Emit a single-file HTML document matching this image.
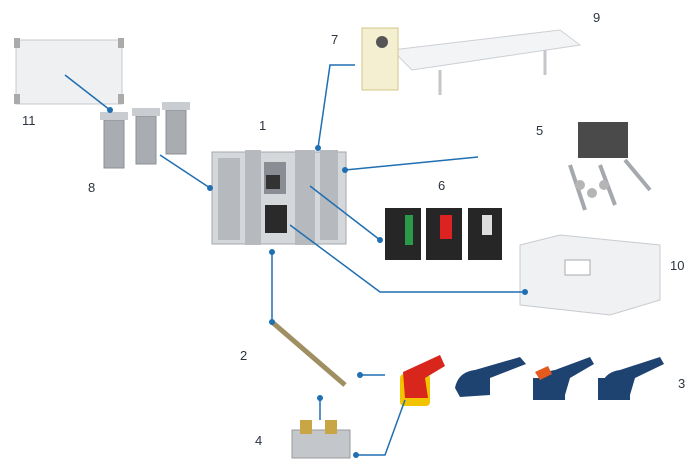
<!DOCTYPE html>
<html><head><meta charset="utf-8"><style>
html,body{margin:0;padding:0;background:#fff;width:700px;height:475px;overflow:hidden}
svg{display:block}
text{font-family:"Liberation Sans",sans-serif;font-size:13px;fill:#2b3440}
</style></head><body>
<svg width="700" height="475" viewBox="0 0 700 475">
<!-- 11 panel -->
<rect x="16" y="40" width="106" height="64" fill="#eef0f2" stroke="#c5c8cc"/>
<rect x="14" y="38" width="6" height="10" fill="#aaa"/><rect x="118" y="38" width="6" height="10" fill="#aaa"/>
<rect x="14" y="94" width="6" height="10" fill="#aaa"/><rect x="118" y="94" width="6" height="10" fill="#aaa"/>
<!-- 8 brackets -->
<g fill="#a9adb2" stroke="#8c9096">
<rect x="104" y="120" width="20" height="48"/><rect x="136" y="116" width="20" height="48"/><rect x="166" y="110" width="20" height="44"/>
</g>
<g fill="#c9ccd0"><rect x="100" y="112" width="28" height="8"/><rect x="132" y="108" width="28" height="8"/><rect x="162" y="102" width="28" height="8"/></g>
<!-- 9 cover -->
<polygon points="392,50 560,30 580,45 412,70" fill="#f3f4f6" stroke="#cdd0d4"/>
<line x1="440" y1="70" x2="440" y2="95" stroke="#c4c6ca" stroke-width="3"/><line x1="545" y1="50" x2="545" y2="75" stroke="#c4c6ca" stroke-width="3"/>
<!-- 7 -->
<rect x="362" y="28" width="36" height="62" fill="#f5efd2" stroke="#d3c487"/>
<circle cx="382" cy="42" r="6" fill="#555"/>
<!-- 5 -->
<rect x="578" y="122" width="50" height="36" fill="#4a4a4a"/>
<g stroke="#a5a8ac" stroke-width="4"><line x1="570" y1="165" x2="585" y2="210"/><line x1="600" y1="165" x2="615" y2="205"/><line x1="625" y1="160" x2="650" y2="190"/></g>
<g fill="#b5b5b5"><circle cx="580" cy="185" r="5"/><circle cx="592" cy="193" r="5"/><circle cx="604" cy="185" r="5"/></g>
<!-- 1 main switch -->
<rect x="212" y="152" width="134" height="92" fill="#d5d8db" stroke="#a3a7ac"/>
<g fill="#b6babf"><rect x="218" y="158" width="22" height="82"/><rect x="245" y="150" width="16" height="95"/><rect x="295" y="150" width="20" height="95"/><rect x="320" y="150" width="18" height="90"/></g>
<rect x="264" y="162" width="22" height="32" fill="#8a8e94"/><rect x="266" y="175" width="14" height="14" fill="#333"/><rect x="265" y="205" width="22" height="28" fill="#2a2a2a"/>
<!-- 6 contacts -->
<rect x="385" y="208" width="36" height="52" fill="#262626"/><rect x="426" y="208" width="36" height="52" fill="#262626"/><rect x="468" y="208" width="34" height="52" fill="#262626"/>
<rect x="405" y="215" width="8" height="30" fill="#2a9a4a"/><rect x="440" y="215" width="12" height="24" fill="#d22"/><rect x="482" y="215" width="10" height="20" fill="#ddd"/>
<!-- 10 -->
<polygon points="520,245 560,235 660,245 660,300 610,315 520,305" fill="#f0f1f3" stroke="#c8cbcf"/>
<rect x="565" y="260" width="25" height="15" fill="#fff" stroke="#aaa"/>
<!-- 2 shaft -->
<line x1="272" y1="322" x2="345" y2="385" stroke="#a08f62" stroke-width="5"/>
<!-- 3 handles -->
<rect x="400" y="374" width="30" height="32" rx="4" fill="#f2c400"/>
<path d="M403,372 L440,355 L445,366 L425,378 L428,398 L405,398Z" fill="#d8261c"/>
<path d="M455,388 Q458,372 475,370 L520,357 L526,364 L490,378 L490,395 L460,397Z" fill="#1f4370"/>
<rect x="533" y="378" width="32" height="22" fill="#1f4370"/>
<path d="M536,388 Q540,372 555,370 L590,357 L594,364 L570,378 L565,395 Z" fill="#1f4370"/><path d="M535,372 L548,366 L552,374 L540,380Z" fill="#e45a1c"/>
<rect x="598" y="378" width="32" height="22" fill="#1f4370"/>
<path d="M600,388 Q604,372 620,370 L660,357 L664,364 L635,378 L630,395 Z" fill="#1f4370"/>
<!-- 4 -->
<rect x="292" y="430" width="58" height="28" fill="#c3c6ca" stroke="#999"/>
<rect x="300" y="420" width="12" height="14" fill="#c9a645"/><rect x="325" y="420" width="12" height="14" fill="#c9a645"/>
<!-- connectors -->
<g stroke="#1f6fb2" stroke-width="1.5" fill="none">
<line x1="65" y1="75" x2="110" y2="110"/>
<line x1="160" y1="155" x2="210" y2="188"/>
<polyline points="355,65 330,65 318,148"/>
<line x1="478" y1="157" x2="345" y2="170"/>
<line x1="310" y1="186" x2="380" y2="240"/>
<polyline points="290,225 380,292 525,292"/>
<polyline points="272,252 272,322"/>
<line x1="360" y1="375" x2="385" y2="375"/>
<polyline points="356,455 385,455 405,400"/>
<line x1="320" y1="398" x2="320" y2="420"/>
</g>
<g fill="#1f6fb2">
<circle cx="110" cy="110" r="3"/><circle cx="210" cy="188" r="3"/><circle cx="318" cy="148" r="3"/><circle cx="345" cy="170" r="3"/><circle cx="380" cy="240" r="3"/><circle cx="525" cy="292" r="3"/><circle cx="272" cy="252" r="3"/><circle cx="272" cy="322" r="3"/><circle cx="360" cy="375" r="3"/><circle cx="356" cy="455" r="3"/><circle cx="320" cy="398" r="3"/>
</g>
<text x="259" y="130">1</text><text x="331" y="44">7</text><text x="593" y="22">9</text><text x="536" y="135">5</text>
<text x="438" y="190">6</text><text x="670" y="270">10</text><text x="22" y="125">11</text><text x="88" y="192">8</text>
<text x="240" y="360">2</text><text x="678" y="388">3</text><text x="255" y="445">4</text>
</svg>
</body></html>
